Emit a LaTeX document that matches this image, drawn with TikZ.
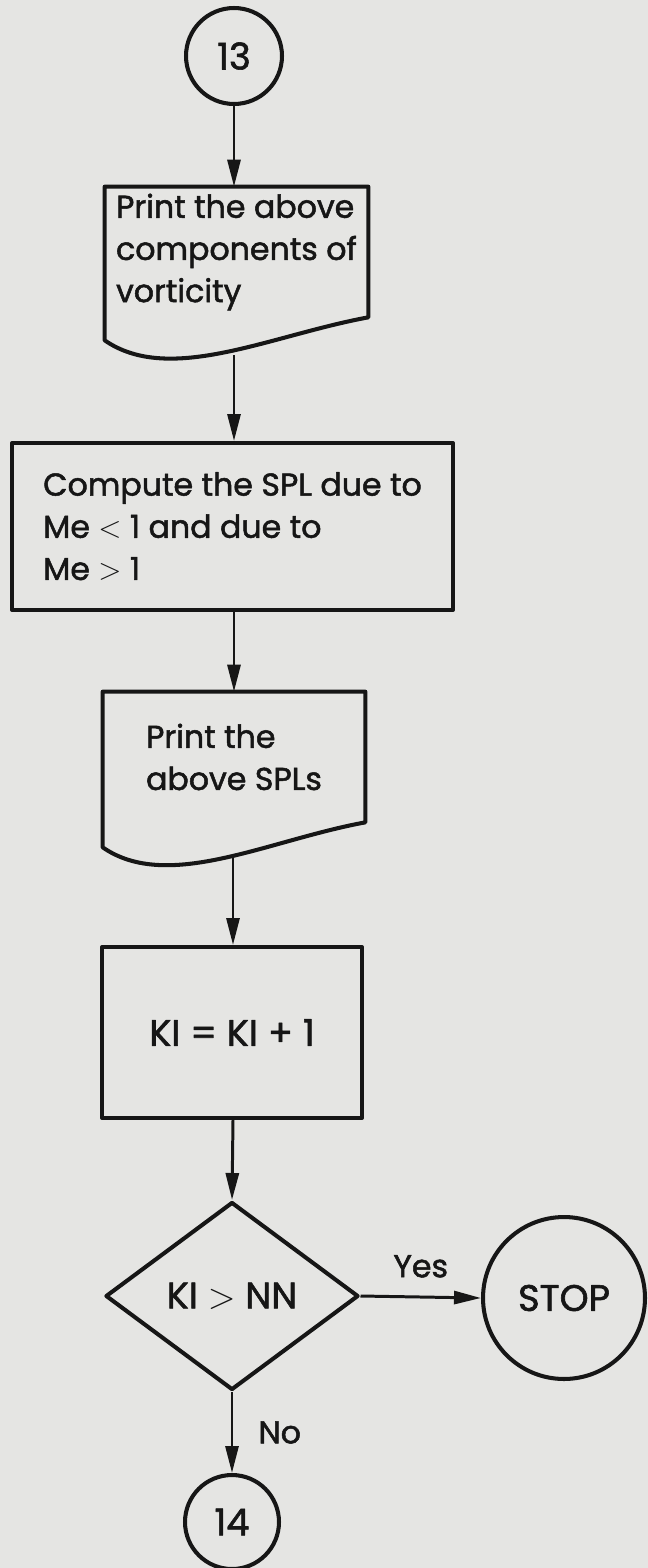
\documentclass[tikz,border=0pt]{standalone}
\usepackage{fontspec}
\setmainfont{Poppins}
\newfontfamily\flowfont{Poppins}[FakeBold=1.6]
\usetikzlibrary{shapes.geometric,arrows.meta}

\definecolor{paper}{RGB}{229,229,227}
\definecolor{ink}{RGB}{22,22,22}

\begin{document}
\begin{tikzpicture}[x=0.02cm, y=0.02cm,
    outline/.style={draw=ink, line width=2.3pt, line join=round},
    procbox/.style={rectangle, outline, align=left},
    printbox/.style={rectangle, align=left},
    decision/.style={diamond, outline, aspect=1.35},
    connector/.style={circle, outline},
    bigtext/.style={font=\flowfont\fontsize{21}{24}\selectfont},
    flow/.style={draw=ink, line width=1.7pt, -{Triangle[length=0.54cm,width=0.26cm]}}]
  \tikzstyle{every node}+=[inner sep=0pt, text=ink, font=\flowfont\fontsize{18}{24}\selectfont]
  \fill [paper] (0,0) rectangle (648,-1568);
  \useasboundingbox (0,0) rectangle (648,-1568);
  % shapes
  \node [connector, bigtext, minimum size=1.92cm] (c13) at (234,-56) {13};
  \node [printbox, minimum width=5.26cm, minimum height=2.6cm] (prt1) at (236.5,-252) {Print the above\\components of\\vorticity};
  \draw [outline] (prt1.north west) -- (prt1.north east) -- (prt1.south east)
    .. controls +(-98,-18) and +(65,-45) .. ([yshift=-0.46cm]prt1.south west) -- cycle;
  \coordinate (prt1b) at (234,-355);
  \node [procbox, minimum width=8.82cm, minimum height=3.34cm] (spl) at (232.5,-526.5) {Compute the SPL due to\\Me $<$ 1 and due to\\Me $>$ 1};
  \node [printbox, minimum width=5.24cm, minimum height=2.6cm] (prt2) at (234,-757) {Print the\\above SPLs};
  \draw [outline] (prt2.north west) -- (prt2.north east) -- (prt2.south east)
    .. controls +(-98,-18) and +(65,-45) .. ([yshift=-0.5cm]prt2.south west) -- cycle;
  \coordinate (prt2b) at (233,-858);
  \node [procbox, bigtext, minimum width=5.2cm, minimum height=3.42cm] (inc) at (232,-1032.5) {KI = KI + 1};
  \node [decision, bigtext, minimum width=5.06cm, minimum height=3.76cm] (test) at (232,-1296) {KI $>$ NN};
  \node [connector, bigtext, minimum size=3.24cm] (stop) at (564,-1298) {STOP};
  \node [connector, bigtext, minimum size=1.88cm] (c14) at (232,-1522) {14};
  % connectors
  \draw [flow] (c13.south) -- (c13.south |- prt1.north);
  \draw [flow] (prt1b) -- (prt1b |- spl.north);
  \draw [flow] (prt1b |- spl.south) -- (prt1b |- prt2.north);
  \draw [flow] (prt2b) -- (prt2b |- inc.north);
  \draw [flow] (prt2b |- inc.south) -- (test.north);
  \draw [flow] (test.east) -- node [above=0.36cm] (yes) {Yes} (stop.west);
  \draw [flow] (test.south) -- node [right=0.5cm] (no) {No} (c14.north);
\end{tikzpicture}
\end{document}
